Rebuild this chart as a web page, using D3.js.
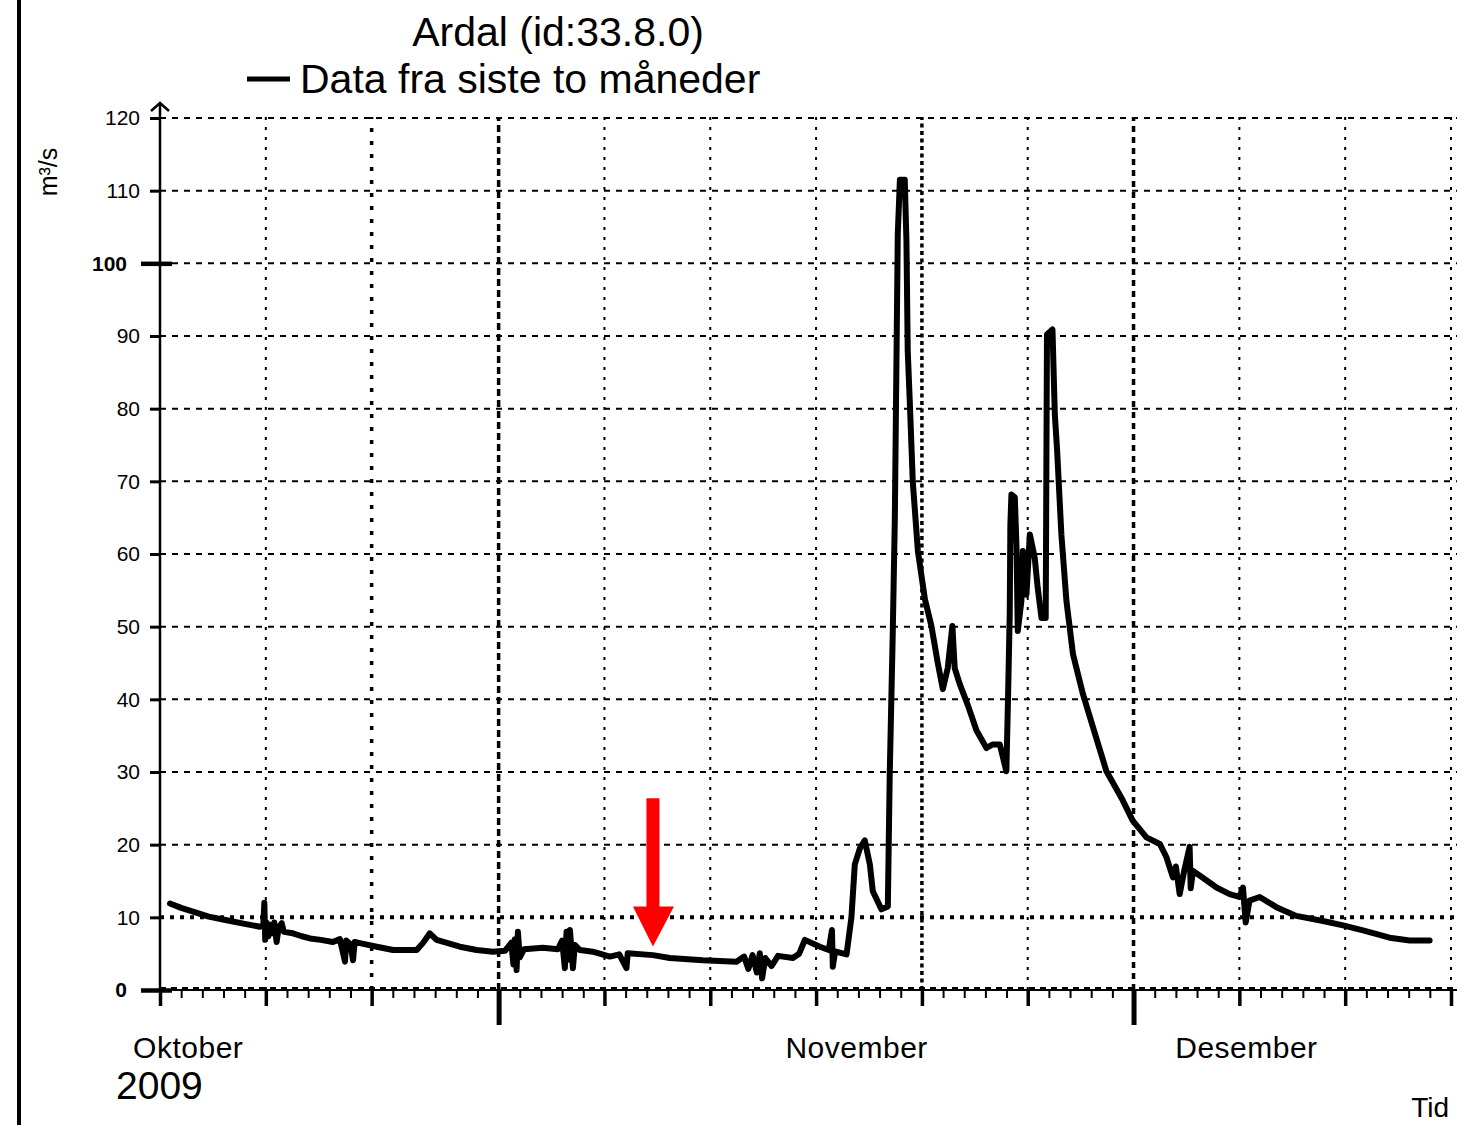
<!DOCTYPE html>
<html>
<head>
<meta charset="utf-8">
<script src="https://cdn.jsdelivr.net/npm/d3@7/dist/d3.min.js"></script>
<style>
  body { margin: 0; background: #fff; }
  text { font-family: "Liberation Sans", Arial, Helvetica, sans-serif; fill: #000; }
</style>
</head>
<body>
<div id="chart"></div>
<script>
// axis ticks and labels
const yTicks = [0, 10, 20, 30, 40, 50, 60, 70, 80, 90, 100, 110, 120];
const yMajor = [0, 100];
const gridDates = ["2009-10-16", "2009-10-21", "2009-10-26", "2009-11-01", "2009-11-06", "2009-11-11",
    "2009-11-16", "2009-11-21", "2009-11-26", "2009-12-01", "2009-12-06", "2009-12-11", "2009-12-16"];
const monthLabels = ["Oktober", "November", "Desember"];
const monthLabelDates = ["2009-10-17T08:00", "2009-11-17T22:00", "2009-12-06T08:00"];
const yearLabel = "2009";
const titleText = "Ardal (id:33.8.0)";
const legendText = "Data fra siste to måneder";
const unitText = "m³/s";
const timeText = "Tid";

// marker arrow (date, from value, to value)
const arrowDate = "2009-11-08T07:00";
const arrowFrom = 26.4, arrowTo = 6.0;

// flow series: [days since 16 Oct 2009, m3/s]
const flow = [
    [0.47, 11.9], [1.0, 11.3], [1.56, 10.8], [2.3, 10.1], [3.15, 9.6], [4.0, 9.1], [4.72, 8.7],
    [4.88, 8.9], [4.93, 12.0], [4.97, 6.9], [5.03, 9.3], [5.12, 7.4], [5.2, 9.0], [5.3, 7.8],
    [5.4, 9.3], [5.51, 6.6], [5.6, 8.5], [5.75, 9.2], [5.85, 8.0], [6.28, 7.8], [6.7, 7.4],
    [7.09, 7.1], [7.6, 6.9], [8.17, 6.6], [8.5, 7.0], [8.74, 3.9], [8.8, 6.8], [9.0, 6.3],
    [9.12, 4.1], [9.2, 6.6], [9.45, 6.45], [10.24, 5.96], [11.01, 5.5], [12.13, 5.5],
    [12.42, 6.45], [12.75, 7.8], [13.07, 6.9], [14.17, 5.96], [14.96, 5.5], [15.73, 5.27],
    [16.3, 5.4], [16.6, 6.5], [16.7, 3.5], [16.77, 7.0], [16.85, 2.75], [16.91, 8.0], [17.0, 4.5],
    [17.2, 5.6], [18.09, 5.8], [18.8, 5.6], [19.0, 6.8], [19.13, 3.0], [19.21, 8.0], [19.3, 4.2],
    [19.37, 8.25], [19.51, 3.0], [19.6, 6.2], [19.84, 5.5], [20.45, 5.27], [21.26, 4.6],
    [21.7, 4.9], [22.04, 3.0], [22.1, 5.05], [23.29, 4.8], [24.09, 4.4], [25.65, 4.1],
    [27.24, 3.9], [27.6, 4.6], [27.8, 2.9], [28.0, 4.8], [28.2, 2.4], [28.34, 5.05], [28.45, 1.6],
    [28.6, 4.4], [28.9, 3.3], [29.2, 4.7], [29.9, 4.4], [30.2, 5.0], [30.47, 6.9], [31.18, 5.96],
    [31.6, 5.5], [31.75, 8.25], [31.79, 3.2], [31.9, 5.3], [32.26, 5.05], [32.44, 4.9],
    [32.67, 10], [32.83, 17.3], [33.07, 19.5], [33.30, 20.6], [33.54, 17.3], [33.68, 13.6],
    [34.09, 11.1], [34.39, 11.5], [34.48, 29.7], [34.62, 48.7], [34.72, 64.7], [34.86, 104],
    [34.96, 111.5], [35.19, 111.5], [35.27, 103], [35.33, 88], [35.43, 80.8], [35.57, 69.9],
    [35.81, 60.4], [36.14, 53.8], [36.45, 50.1], [36.75, 45], [36.99, 41.4], [37.22, 44.3],
    [37.44, 50.1], [37.55, 44.3], [37.79, 42.1], [38.17, 39.2], [38.58, 35.7], [39.05, 33.3],
    [39.35, 33.8], [39.68, 33.8], [39.99, 30.1], [40.06, 38.9], [40.15, 51.7], [40.18, 64],
    [40.23, 68.2], [40.39, 67.8], [40.47, 60.9], [40.53, 49.4], [40.70, 53.5], [40.77, 60.4],
    [40.94, 54.4], [41.10, 62.7], [41.33, 59.5], [41.47, 55.4], [41.65, 51.2], [41.85, 51.2],
    [41.91, 90.2], [42.17, 90.9], [42.28, 79.2], [42.39, 74.2], [42.59, 62.7], [42.83, 53.5],
    [43.14, 46.2], [43.61, 40.7], [44.09, 36.1], [44.72, 30.1], [45.49, 26.1], [45.96, 23.3],
    [46.61, 21.0], [47.24, 20.1], [47.55, 18.3], [47.86, 15.5], [48.0, 17.0], [48.18, 13.2],
    [48.4, 16.5], [48.65, 19.7], [48.7, 14.0], [48.81, 16.4], [49.44, 15.1], [49.92, 14.1],
    [50.54, 13.2], [51.0, 12.8], [51.17, 14.1], [51.3, 9.3], [51.48, 12.3], [51.96, 12.8],
    [52.75, 11.4], [53.69, 10.2], [54.95, 9.5], [55.90, 8.9], [56.84, 8.2], [58.10, 7.2],
    [59.05, 6.8], [59.99, 6.8]
];

const W = 1457, H = 1125;
const parse = s => new Date(s + (s.length === 10 ? "T00:00Z" : "Z"));
const startDate = parse(gridDates[0]);
const endDate = parse(gridDates[gridDates.length - 1]);
const toDate = d => new Date(startDate.getTime() + d * 864e5);

const svg = d3.select("#chart").append("svg")
    .attr("width", W).attr("height", H);

const x = d3.scaleUtc().domain([startDate, endDate]).range([160, 1451]);
const y = d3.scaleLinear().domain([0, 120]).range([990, 118]);

// left frame line
svg.append("line").attr("x1", 19).attr("x2", 19).attr("y1", 0).attr("y2", H)
    .attr("stroke", "#000").attr("stroke-width", 4);

// grid
const boldV = { "2009-10-26": "4,9", "2009-11-01": "7,4", "2009-11-21": "4,3.5", "2009-12-01": "6,5" };
svg.append("g").selectAll("line").data(gridDates.slice(1)).join("line")
    .attr("x1", d => x(parse(d))).attr("x2", d => x(parse(d)))
    .attr("y1", y(0)).attr("y2", y(120) - 1)
    .attr("stroke", "#000")
    .attr("stroke-width", d => boldV[d] ? 3.5 : 2)
    .attr("stroke-dasharray", d => boldV[d] || "3,7");

svg.append("g").selectAll("line").data(yTicks.slice(1)).join("line")
    .attr("x1", x(startDate)).attr("x2", W)
    .attr("y1", d => y(d)).attr("y2", d => y(d))
    .attr("stroke", "#000")
    .attr("stroke-width", d => d === 10 ? 4 : 2)
    .attr("stroke-dasharray", d => d === 10 ? "4,6" : "6,6");

// x axis
const xAxisG = svg.append("g").attr("transform", `translate(0,${y(0)})`);
xAxisG.append("g")
    .call(d3.axisBottom(x).tickValues(d3.utcDay.range(startDate, endDate)).tickSize(8).tickFormat(""))
    .call(g => g.selectAll(".tick line").attr("stroke-width", 2));
xAxisG.append("g")
    .call(d3.axisBottom(x).tickValues(gridDates.map(parse)).tickSize(16).tickFormat(""))
    .call(g => g.selectAll(".tick line").attr("stroke-width", 3.5));
xAxisG.append("g")
    .call(d3.axisBottom(x).tickValues(d3.utcMonth.range(startDate, endDate)).tickSize(35).tickFormat(""))
    .call(g => g.selectAll(".tick line").attr("stroke-width", 5));
xAxisG.selectAll(".domain").remove();
xAxisG.append("line").attr("x1", x(startDate)).attr("x2", W).attr("y1", 0).attr("y2", 0)
    .attr("stroke", "#000").attr("stroke-width", 2);
xAxisG.append("line").attr("x1", x(startDate)).attr("x2", W).attr("y1", -1).attr("y2", -1)
    .attr("stroke", "#000").attr("stroke-width", 4).attr("stroke-dasharray", "6,5");

svg.append("g").selectAll("text").data(monthLabels).join("text")
    .attr("x", (d, i) => x(parse(monthLabelDates[i])))
    .attr("y", 1058)
    .attr("text-anchor", "middle")
    .attr("font-size", 30)
    .attr("letter-spacing", 0.5)
    .text(d => d);

svg.append("text").attr("x", 116).attr("y", 1099).attr("font-size", 39).text(yearLabel);
svg.append("text").attr("x", 1449).attr("y", 1117).attr("text-anchor", "end")
    .attr("font-size", 28).text(timeText);

// y axis
const yAxisG = svg.append("g").attr("transform", `translate(${x(startDate)},0)`)
    .call(d3.axisLeft(y).tickValues(yTicks).tickSizeInner(10).tickSizeOuter(0).tickPadding(10));
yAxisG.select(".domain").remove();
yAxisG.selectAll(".tick line").attr("stroke-width", 3);
yAxisG.selectAll(".tick text")
    .attr("font-size", 21)
    .attr("font-family", "'Liberation Sans', Arial, sans-serif");
yAxisG.selectAll(".tick").filter(d => yMajor.includes(d))
    .call(t => t.select("line").attr("x1", 12).attr("x2", -19).attr("stroke-width", 4.5))
    .call(t => t.select("text").attr("x", -33).attr("font-weight", "bold"));

yAxisG.append("line").attr("x1", 0).attr("x2", 0).attr("y1", y(0)).attr("y2", y(120) - 15)
    .attr("stroke", "#000").attr("stroke-width", 2.5);
yAxisG.append("path")
    .attr("d", `M-9,${y(120) - 7} L0,${y(120) - 15} L9,${y(120) - 7}`)
    .attr("fill", "none").attr("stroke", "#000").attr("stroke-width", 2.5);

svg.append("text")
    .attr("transform", "translate(57,172) rotate(-90)")
    .attr("text-anchor", "middle")
    .attr("font-size", 25)
    .text(unitText);

// flow line
const line = d3.line()
    .x(d => x(toDate(d[0])))
    .y(d => y(d[1]));
svg.append("path")
    .datum(flow)
    .attr("fill", "none")
    .attr("stroke", "#000")
    .attr("stroke-width", 6)
    .attr("stroke-linejoin", "round")
    .attr("stroke-linecap", "round")
    .attr("d", line);

// red arrow
const ax = x(parse(arrowDate));
svg.append("line")
    .attr("x1", ax).attr("x2", ax)
    .attr("y1", y(arrowFrom)).attr("y2", y(arrowTo) - 38)
    .attr("stroke", "#ff0000").attr("stroke-width", 13);
svg.append("path")
    .attr("d", `M${ax - 20},${y(arrowTo) - 40} L${ax + 21},${y(arrowTo) - 40} L${ax},${y(arrowTo)} Z`)
    .attr("fill", "#ff0000");

// title and legend
svg.append("text").attr("x", 558).attr("y", 46).attr("text-anchor", "middle")
    .attr("font-size", 41).text(titleText);
svg.append("line").attr("x1", 247).attr("x2", 290).attr("y1", 79).attr("y2", 79)
    .attr("stroke", "#000").attr("stroke-width", 5);
svg.append("text").attr("x", 300).attr("y", 93).attr("font-size", 41).text(legendText);
</script>
</body>
</html>
